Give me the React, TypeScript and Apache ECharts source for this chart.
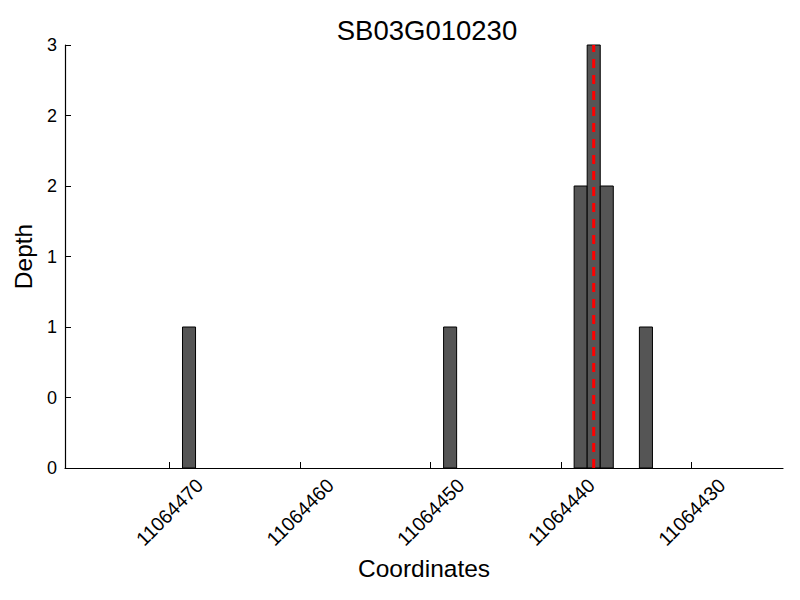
import React, { useEffect, useRef } from "react";
import * as echarts from "echarts";

const titleText = "SB03G010230";
const xName = "Coordinates";
const yName = "Depth";
// bar left edges (coordinate) and widths of 1 unit
const barStarts = [11064468, 11064448, 11064438, 11064437, 11064436, 11064433];
const barDepths = [1, 1, 2, 3, 2, 1];
const barWidthUnits = 1;
const markerX = 11064437.5;
const xTickValues = [11064470, 11064460, 11064450, 11064440, 11064430];
const xMin = 11064423;
const xMax = 11064478;
const yMin = 0;
const yMax = 3;
const yInterval = 0.5;

const FONT = "Liberation Sans, Arial, sans-serif";

export default function App() {
  const ref = useRef<HTMLDivElement>(null);
  useEffect(() => {
    if (!ref.current) return;
    const chart = echarts.init(ref.current, undefined, { renderer: "svg" });
    const data = barStarts.map((s, i) => [s, s + barWidthUnits, barDepths[i]]);
    chart.setOption({
      animation: false,
      backgroundColor: "#ffffff",
      textStyle: { fontFamily: FONT },
      title: {
        text: titleText,
        left: 422,
        top: 11,
        textAlign: "center",
        textStyle: { fontFamily: FONT, fontSize: 27.5, fontWeight: "normal", color: "#000" },
      },
      grid: { left: 65, right: 17, top: 45, bottom: 132, containLabel: false },
      xAxis: {
        type: "value",
        inverse: true,
        min: xMin,
        max: xMax,
        name: xName,
        nameLocation: "middle",
        nameGap: 87,
        nameTextStyle: { fontFamily: FONT, fontSize: 24.5, color: "#000" },
        axisLine: { show: true, onZero: false, lineStyle: { color: "#000", width: 1.2 } },
        axisTick: { show: true, inside: true, length: 6, customValues: xTickValues, lineStyle: { color: "#000" } },
        axisLabel: {
          customValues: xTickValues,
          rotate: 45,
          align: "center",
          verticalAlign: "middle",
          margin: 44,
          fontFamily: FONT,
          fontSize: 19.5,
          color: "#000",
          formatter: (v: number) => String(Math.round(v)),
        },
        splitLine: { show: false },
      },
      yAxis: {
        type: "value",
        min: yMin,
        max: yMax,
        interval: yInterval,
        name: yName,
        nameLocation: "middle",
        nameGap: 29,
        nameTextStyle: { fontFamily: FONT, fontSize: 24.5, color: "#000" },
        axisLine: { show: true, lineStyle: { color: "#000", width: 1.2 } },
        axisTick: { show: true, inside: true, length: 6, lineStyle: { color: "#000" } },
        axisLabel: {
          fontFamily: FONT,
          fontSize: 18,
          color: "#000",
          margin: 8,
          formatter: (v: number) => String(Math.floor(v)),
        },
        splitLine: { show: false },
      },
      series: [
        {
          type: "custom",
          data,
          encode: { x: [0, 1], y: 2 },
          renderItem: (params: any, api: any) => {
            const x0 = api.value(0);
            const x1 = api.value(1);
            const h = api.value(2);
            const p0 = api.coord([x0, h]);
            const p1 = api.coord([x1, 0]);
            const left = Math.min(p0[0], p1[0]);
            const width = Math.abs(p1[0] - p0[0]);
            return {
              type: "rect",
              shape: { x: left, y: p0[1], width, height: p1[1] - p0[1] },
              style: { fill: "#555555", stroke: "#000000", lineWidth: 1 },
            };
          },
        },
        {
          type: "line",
          data: [
            [markerX, yMin],
            [markerX, yMax],
          ],
          symbol: "none",
          lineStyle: { color: "#ff0000", width: 3, type: [9, 7] },
          z: 5,
        },
      ],
    });
    return () => chart.dispose();
  }, []);
  return <div ref={ref} style={{ width: 800, height: 600, position: "absolute", left: 0, top: 0 }} />;
}
